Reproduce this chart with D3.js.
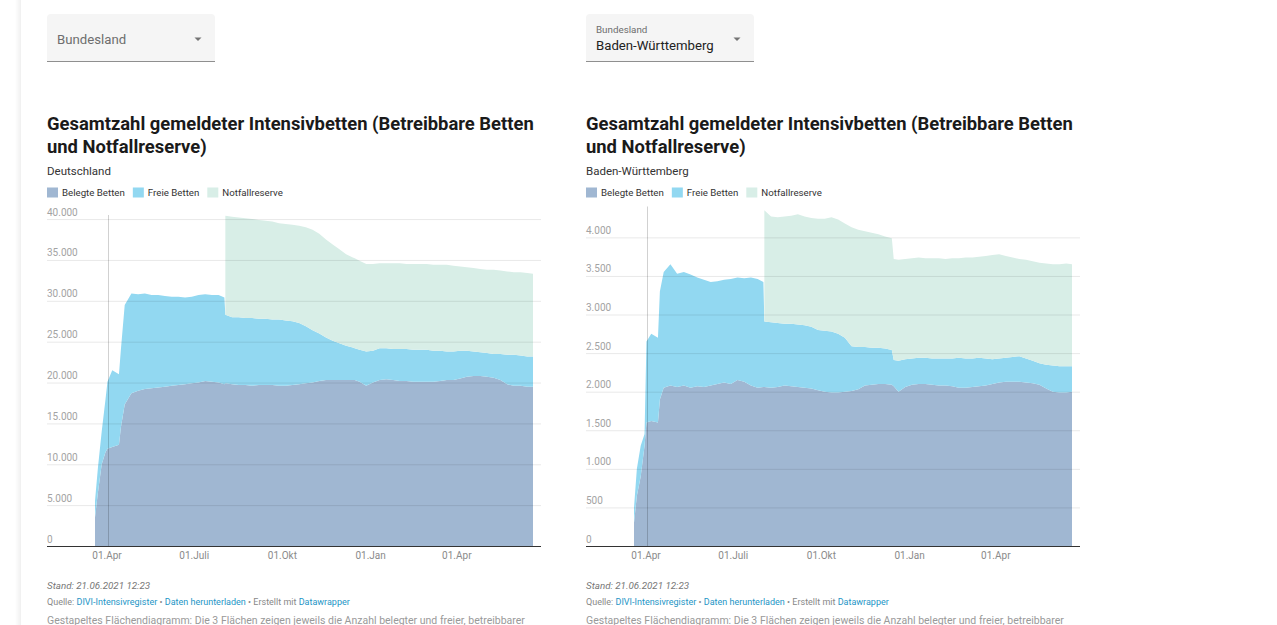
<!DOCTYPE html>
<html lang="de">
<head>
<meta charset="utf-8">
<script src="https://cdn.jsdelivr.net/npm/d3@7"></script>
<style>
  html, body { margin: 0; padding: 0; background: #fff; }
  body { width: 1277px; height: 625px; overflow: hidden; font-family: Roboto, "Noto Sans", sans-serif; }
  svg text { font-family: Roboto, "Noto Sans", sans-serif; }
</style>
</head>
<body>
<svg id="page" width="1277" height="625"></svg>
<script>
// shared day list (roughly weekly, with extra days around jumps)
const dates = [
  '2020-03-20', '2020-03-23', '2020-03-27', '2020-03-31', '2020-04-02', '2020-04-07', '2020-04-14', '2020-04-16', '2020-04-20', '2020-04-27',
  '2020-05-04', '2020-05-11', '2020-05-18', '2020-05-25', '2020-06-01', '2020-06-08', '2020-06-15', '2020-06-22', '2020-06-29', '2020-07-06',
  '2020-07-13', '2020-07-20', '2020-07-27', '2020-08-02', '2020-08-03', '2020-08-10', '2020-08-17', '2020-08-24', '2020-08-31', '2020-09-07',
  '2020-09-14', '2020-09-21', '2020-09-28', '2020-10-05', '2020-10-12', '2020-10-19', '2020-10-26', '2020-11-02', '2020-11-09', '2020-11-16',
  '2020-11-23', '2020-11-30', '2020-12-07', '2020-12-14', '2020-12-16', '2020-12-21', '2020-12-28', '2021-01-04', '2021-01-11', '2021-01-18',
  '2021-01-25', '2021-02-01', '2021-02-08', '2021-02-15', '2021-02-22', '2021-03-01', '2021-03-08', '2021-03-15', '2021-03-22', '2021-03-29',
  '2021-04-05', '2021-04-12', '2021-04-19', '2021-04-26', '2021-05-03', '2021-05-10', '2021-05-17', '2021-05-24', '2021-05-31', '2021-06-07',
  '2021-06-14', '2021-06-20'
];

// Deutschland
const deBelegt = [
  3500, 6500, 10000, 11500, 11900, 12100, 12400, 14500, 17300, 18700,
  19000, 19200, 19300, 19400, 19500, 19600, 19700, 19800, 19900, 20000,
  20200, 20100, 20000, 19800, 19900, 19800, 19700, 19700, 19600, 19700,
  19700, 19700, 19600, 19600, 19700, 19800, 19900, 20000, 20200, 20300,
  20300, 20300, 20300, 20300, 20300, 20100, 19600, 20000, 20300, 20400,
  20300, 20200, 20200, 20100, 20100, 20100, 20100, 20200, 20300, 20300,
  20500, 20700, 20800, 20800, 20700, 20600, 20300, 19800, 19600, 19600,
  19500, 19500
];
const deFrei = [
  2000, 3000, 4000, 6500, 8200, 9400, 8600, 9500, 12200, 12200,
  11800, 11700, 11400, 11300, 11100, 10900, 10800, 10600, 10600, 10700,
  10600, 10600, 10700, 10600, 8400, 8200, 8300, 8200, 8300, 8100,
  8100, 8000, 8100, 8000, 7800, 7500, 7000, 6400, 5800, 5200,
  4800, 4500, 4200, 4000, 3900, 3900, 4200, 3900, 3900, 3800,
  3800, 3900, 3900, 3900, 3900, 3900, 3800, 3700, 3500, 3500,
  3400, 3200, 3000, 2900, 2900, 2900, 3200, 3600, 3800, 3700,
  3700, 3700
];
const deReserve = [
  null, null, null, null, null, null, null, null, null, null,
  null, null, null, null, null, null, null, null, null, null,
  null, null, null, null, 12100, 12300, 12200, 12200, 12100, 12100,
  12000, 12000, 11800, 11800, 11800, 11900, 12100, 12300, 12200, 12000,
  11800, 11500, 11200, 11000, 11000, 10900, 10700, 10600, 10400, 10400,
  10500, 10500, 10400, 10500, 10500, 10500, 10500, 10500, 10600, 10500,
  10300, 10200, 10200, 10200, 10200, 10300, 10200, 10200, 10100, 10200,
  10200, 10100
];

// Baden-Württemberg
const bwBelegt = [
  300, 650, 900, 1300, 1600, 1620, 1600, 1900, 2050, 2080,
  2060, 2080, 2050, 2070, 2060, 2080, 2100, 2120, 2100, 2150,
  2130, 2080, 2050, 2060, 2060, 2050, 2060, 2080, 2070, 2060,
  2050, 2040, 2020, 2000, 1990, 1990, 2000, 2010, 2030, 2080,
  2090, 2100, 2100, 2090, 2070, 2000, 2060, 2090, 2100, 2100,
  2090, 2080, 2080, 2070, 2050, 2050, 2060, 2070, 2080, 2100,
  2120, 2130, 2130, 2130, 2120, 2110, 2090, 2040, 2000, 1990,
  1990, 2000
];
const bwFrei = [
  200, 350, 400, 150, 1050, 1130, 1100, 1400, 1500, 1570,
  1470, 1470, 1470, 1410, 1390, 1340, 1330, 1330, 1360, 1330,
  1340, 1400, 1410, 1360, 850, 850, 830, 800, 810, 810,
  810, 800, 780, 790, 790, 760, 700, 580, 550, 500,
  480, 470, 460, 450, 340, 400, 360, 340, 340, 340,
  340, 350, 350, 360, 390, 380, 370, 370, 350, 320,
  310, 310, 320, 330, 310, 290, 280, 310, 340, 340,
  340, 330
];
const bwReserve = [
  null, null, null, null, null, null, null, null, null, null,
  null, null, null, null, null, null, null, null, null, null,
  null, null, null, null, 1440, 1370, 1370, 1390, 1400, 1430,
  1410, 1410, 1440, 1450, 1480, 1480, 1480, 1540, 1520, 1500,
  1490, 1470, 1450, 1450, 1310, 1310, 1300, 1300, 1300, 1290,
  1300, 1300, 1290, 1300, 1290, 1310, 1310, 1310, 1330, 1350,
  1350, 1320, 1290, 1260, 1280, 1290, 1300, 1310, 1310, 1320,
  1330, 1320
];

const seriesKeys = ['belegt', 'frei', 'reserve'];
const seriesNames = ['Belegte Betten', 'Freie Betten', 'Notfallreserve'];
const seriesColors = ['#a0b7d2', '#92d8f1', '#d8eee7'];

const deTicks = [0, 5000, 10000, 15000, 20000, 25000, 30000, 35000, 40000];
const bwTicks = [0, 500, 1000, 1500, 2000, 2500, 3000, 3500, 4000];
const xTickDates = ['2020-04-01', '2020-07-01', '2020-10-01', '2021-01-01', '2021-04-01'];
const xTickLabels = ['01.Apr', '01.Juli', '01.Okt', '01.Jan', '01.Apr'];
const markerDate = '2020-04-03';

const titleLines = ['Gesamtzahl gemeldeter Intensivbetten (Betreibbare Betten', 'und Notfallreserve)'];
const standText = 'Stand: 21.06.2021 12:23';
const sourceParts = [
  ['Quelle: ', false], ['DIVI-Intensivregister', true], [' • ', false],
  ['Daten herunterladen', true], [' • Erstellt mit ', false], ['Datawrapper', true]
];
const descText = 'Gestapeltes Flächendiagramm: Die 3 Flächen zeigen jeweils die Anzahl belegter und freier, betreibbarer';

const charts = [
  { left: 47, region: 'Deutschland', selectLabel: null, selectValue: 'Bundesland',
    belegt: deBelegt, frei: deFrei, reserve: deReserve, ticks: deTicks, yMax: 40500, plotTop: 215 },
  { left: 586, region: 'Baden-Württemberg', selectLabel: 'Bundesland', selectValue: 'Baden-Württemberg',
    belegt: bwBelegt, frei: bwFrei, reserve: bwReserve, ticks: bwTicks, yMax: 4400, plotTop: 206.5 }
];

const de = d3.formatLocale({ decimal: ',', thousands: '.', grouping: [3], currency: ['', ' €'] });
const fmt = de.format(',');
const parseDay = d3.timeParse('%Y-%m-%d');
const svg = d3.select('#page');

// faint page edge on the left
const defs = svg.append('defs');
const grad = defs.append('linearGradient').attr('id', 'edge');
grad.append('stop').attr('offset', '0%').attr('stop-color', '#000').attr('stop-opacity', 0);
grad.append('stop').attr('offset', '100%').attr('stop-color', '#000').attr('stop-opacity', 0.06);
svg.append('rect').attr('x', 15).attr('y', 0).attr('width', 6).attr('height', 625).attr('fill', 'url(#edge)');

function drawSelect(g, label, value) {
  const w = 168;
  g.append('rect').attr('x', 0).attr('y', 14).attr('width', w).attr('height', 48)
    .attr('rx', 4).attr('fill', '#f5f5f5');
  g.append('rect').attr('x', 0).attr('y', 40).attr('width', w).attr('height', 22).attr('fill', '#f5f5f5');
  g.append('line').attr('x1', 0).attr('x2', w).attr('y1', 61.5).attr('y2', 61.5)
    .attr('stroke', '#8f8f8f').attr('stroke-width', 1);
  const ax = w - 17;
  g.append('path').attr('d', `M${ax - 3.5},37.5 L${ax + 3.5},37.5 L${ax},41 Z`).attr('fill', '#747474');
  if (label) {
    g.append('text').attr('x', 10).attr('y', 32.5).attr('font-size', 9.8).attr('fill', '#6e6e6e').text(label);
    g.append('text').attr('x', 10).attr('y', 49.5).attr('font-size', 13.2).attr('fill', '#222').text(value);
  } else {
    g.append('text').attr('x', 10).attr('y', 44).attr('font-size', 13.2).attr('fill', '#6e6e6e').text(value);
  }
}

function drawChart(cfg) {
  const g = svg.append('g').attr('transform', `translate(${cfg.left},0)`);

  drawSelect(g.append('g'), cfg.selectLabel, cfg.selectValue);

  const title = g.append('text').attr('font-size', 18.4).attr('font-weight', 700).attr('fill', '#1a1a1a');
  titleLines.forEach((t, i) => {
    title.append('tspan').attr('x', 0).attr('y', 130 + i * 23).text(t);
  });
  g.append('text').attr('x', 0).attr('y', 175).attr('font-size', 11.5).attr('fill', '#333').text(cfg.region);

  // legend
  let lx = 0;
  seriesKeys.forEach((k, i) => {
    g.append('rect').attr('x', lx).attr('y', 187.5).attr('width', 11).attr('height', 10).attr('fill', seriesColors[i]);
    const t = g.append('text').attr('x', lx + 15).attr('y', 196).attr('font-size', 9.7).attr('fill', '#333').text(seriesNames[i]);
    lx += 15 + t.node().getComputedTextLength() + 8;
  });

  const x = d3.scaleTime()
    .domain([parseDay(dates[0]), parseDay(dates[dates.length - 1])])
    .range([48, 486]);
  const y = d3.scaleLinear().domain([0, cfg.yMax]).range([546, cfg.plotTop]);

  const rows = dates.map((d, i) => ({
    date: parseDay(d), belegt: cfg.belegt[i], frei: cfg.frei[i], reserve: cfg.reserve[i]
  }));
  const stacked = d3.stack().keys(seriesKeys).value((d, k) => (d[k] == null ? 0 : d[k]))(rows);

  stacked.forEach((s, i) => {
    const area = d3.area()
      .defined(d => d.data[s.key] != null)
      .x(d => x(d.data.date))
      .y0(d => y(d[0]))
      .y1(d => y(d[1]));
    g.append('path').datum(s).attr('fill', seriesColors[i]).attr('d', area);
  });

  // gridlines + y labels
  const yAxis = g.append('g').attr('class', 'axis axis--y')
    .call(d3.axisRight(y).tickValues(cfg.ticks).tickSize(494).tickFormat(fmt));
  yAxis.select('.domain').remove();
  yAxis.selectAll('.tick line')
    .attr('stroke', d => (d === 0 ? '#333' : '#000'))
    .attr('stroke-opacity', d => (d === 0 ? 1 : 0.09));
  yAxis.selectAll('.tick text')
    .attr('x', 0).attr('dy', -4).attr('text-anchor', 'start')
    .attr('font-size', 10).attr('font-family', 'Roboto, sans-serif').attr('fill', '#a3a3a3');

  // highlight line
  const mx = Math.round(x(parseDay(markerDate))) + 0.5;
  g.append('line').attr('x1', mx).attr('x2', mx).attr('y1', y(cfg.yMax)).attr('y2', 546)
    .attr('stroke', '#000').attr('stroke-opacity', 0.18);

  const xAxis = g.append('g').attr('class', 'axis axis--x')
    .attr('transform', 'translate(0,546)')
    .call(d3.axisBottom(x).tickValues(xTickDates.map(parseDay)).tickSize(0).tickPadding(6)
      .tickFormat((d, i) => xTickLabels[i]));
  xAxis.select('.domain').remove();
  xAxis.selectAll('.tick text')
    .attr('font-size', 10).attr('font-family', 'Roboto, sans-serif').attr('fill', '#8a8a8a');

  // footer
  g.append('text').attr('x', 0).attr('y', 588.5).attr('font-size', 9.8)
    .attr('font-style', 'italic').attr('fill', '#777').text(standText);
  const src = g.append('text').attr('x', 0).attr('y', 605).attr('font-size', 9);
  sourceParts.forEach(([t, link]) => {
    src.append('tspan').attr('fill', link ? '#1d95c6' : '#888').text(t);
  });
  g.append('text').attr('x', 0).attr('y', 623.5).attr('font-size', 10.5).attr('fill', '#999').text(descText);
}

charts.forEach(drawChart);
</script>
</body>
</html>
